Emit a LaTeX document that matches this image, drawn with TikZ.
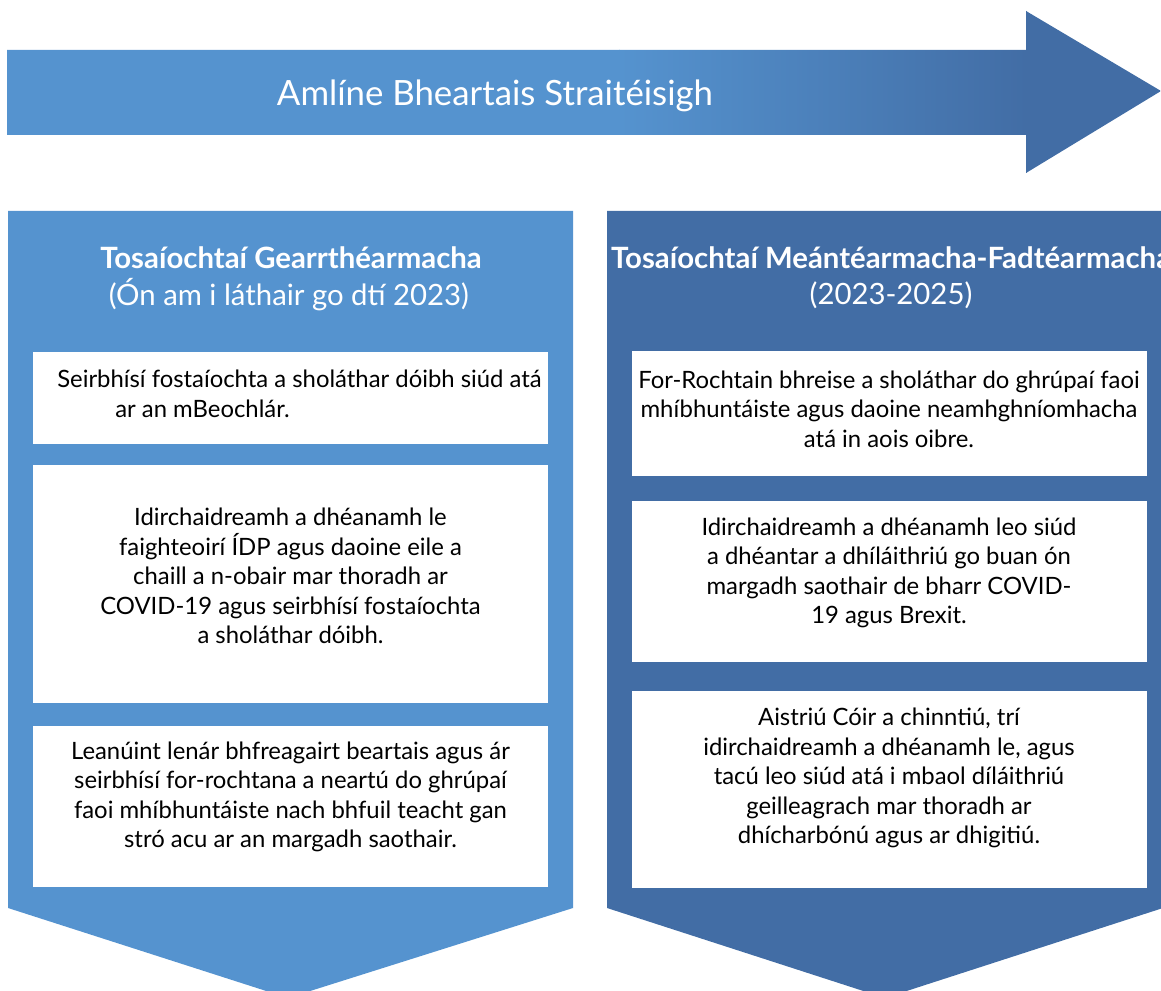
\documentclass[tikz,border=0pt]{standalone}
\usepackage{fontspec}
\setmainfont{Lato}
\usetikzlibrary{fit}
\definecolor{lightblue}{HTML}{5593CF}
\definecolor{darkblue}{HTML}{426DA5}
\begin{document}
\begin{tikzpicture}[x=0.75pt,y=-0.75pt,
  wbox/.style={draw=none,fill=white,inner sep=0pt},
  bodytext/.style={font=\fontsize{17.9pt}{22.1pt}\selectfont,align=center,text=black,inner sep=0pt},
  headtext/.style={font=\fontsize{22pt}{28.5pt}\selectfont\bfseries,text=white,inner sep=0pt},
  subtext/.style={font=\fontsize{22pt}{28.5pt}\selectfont,text=white,inner sep=0pt},
  titletext/.style={font=\fontsize{26.1pt}{30pt}\selectfont,text=white,inner sep=0pt}]
\clip (0,0) rectangle (1161,991);
% timeline arrow
\begin{scope}
  \clip (7,50) -- (1026,50) -- (1026,11) -- (1161,91) -- (1026,173) -- (1026,135) -- (7,135) -- cycle;
  \fill[lightblue] (0,0) rectangle (620,200);
  \shade[left color=lightblue,right color=darkblue] (619,0) rectangle (1027,200);
  \fill[darkblue] (1026,0) rectangle (1161,200);
\end{scope}
\node[titletext] (title) at (495,96) {Amlíne Bheartais Straitéisigh};
% panels
\fill[lightblue] (8,211) -- (573,211) -- (573,908) -- (288,998) -- (8,908) -- cycle;
\fill[darkblue] (607,211) -- (1163,211) -- (1163,908) -- (885,998) -- (607,908) -- cycle;
\node[headtext] (lh) at (291,258) {Tosaíochtaí Gearrthéarmacha};
\node[subtext] (ls) at (289,295) {(Ón am i láthair go dtí 2023)};
\node[headtext] (rh) at (891,258) {Tosaíochtaí Meántéarmacha-Fadtéarmacha};
\node[subtext] (rs) at (891,295) {(2023-2025)};
% left boxes
\node[wbox,fit={(33,352) (548,444)}] (l1) {};
\node[wbox,fit={(33,465) (548,703)}] (l2) {};
\node[wbox,fit={(33,726) (548,887)}] (l3) {};
% right boxes
\node[wbox,fit={(632,351) (1147,476)}] (r1) {};
\node[wbox,fit={(632,501) (1147,662)}] (r2) {};
\node[wbox,fit={(632,691) (1147,888)}] (r3) {};
% texts
\node[bodytext,align=left,anchor=west] (t1) at (57,394) {Seirbhísí fostaíochta a sholáthar dóibh siúd atá\\\hspace*{43.5pt}ar an mBeochlár.};
\node[bodytext] (t2) at (290.5,576) {Idirchaidreamh a dhéanamh le\\faighteoirí ÍDP agus daoine eile a\\chaill a n-obair mar thoradh ar\\COVID-19 agus seirbhísí fostaíochta\\a sholáthar dóibh.};
\node[bodytext] (t3) at (290.5,797) {Leanúint lenár bhfreagairt beartais agus ár\\seirbhísí for-rochtana a neartú do ghrúpaí\\faoi mhíbhuntáiste nach bhfuil teacht gan\\stró acu ar an margadh saothair.};
\node[bodytext] (t4) at (889,409) {For-Rochtain bhreise a sholáthar do ghrúpaí faoi\\mhíbhuntáiste agus daoine neamhghníomhacha\\atá in aois oibre.};
\node[bodytext] (t5) at (889,573) {Idirchaidreamh a dhéanamh leo siúd\\a dhéantar a dhíláithriú go buan ón\\margadh saothair de bharr COVID-\\19 agus Brexit.};
\node[bodytext] (t6) at (889,778) {Aistriú Cóir a chinntiú, trí\\idirchaidreamh a dhéanamh le, agus\\tacú leo siúd atá i mbaol díláithriú\\geilleagrach mar thoradh ar\\dhícharbónú agus ar dhigitiú.};
\end{tikzpicture}
\end{document}
